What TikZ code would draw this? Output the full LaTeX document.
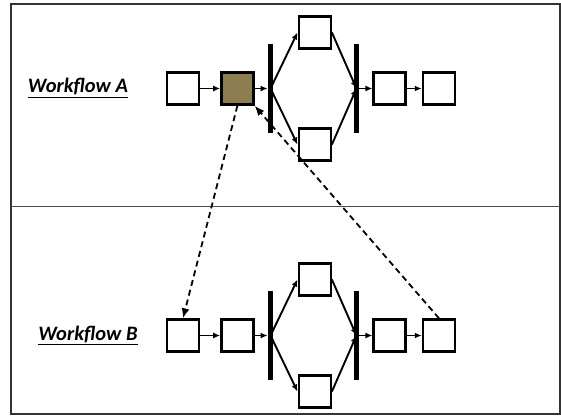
\documentclass[tikz,border=0pt]{standalone}
\usepackage{fontspec}
\setmainfont{Carlito}
\usetikzlibrary{positioning,arrows.meta}
\definecolor{taskbrown}{RGB}{140,126,80}
\tikzset{
  task/.style={draw, line width=2.4pt, minimum size=32pt, inner sep=0pt},
  sync/.style={fill=black, minimum width=5.5pt, minimum height=89pt, inner sep=0pt},
  flow/.style={-{Latex[length=7pt,width=6pt]}, line width=1.9pt},
  link/.style={-{Latex[length=10pt,width=8pt]}, line width=1.8pt, dash pattern=on 6pt off 4pt},
  wflabel/.style={font=\bfseries\itshape\fontsize{20.5}{22}\selectfont}
}
\begin{document}
\begin{tikzpicture}[x=1pt, y=-1pt]
  \useasboundingbox (0,0) rectangle (561,416);
  % Rahmen
  \draw[line width=1.5pt, black!80] (11,4) rectangle (560,414);
  \draw[line width=0.7pt, black!70] (11,206.5) -- (560,206.5);
  % Workflow A
  \node[wflabel] (labA) at (78,88) {\underline{Workflow A}};
  \node[task] (a1) at (183,88.5) {};
  \node[task, fill=taskbrown, right=20pt of a1] (a2) {};
  \node[sync, right=13pt of a2] (sa1) {};
  \node[task, right=24pt of sa1, yshift=56pt] (a3) {};
  \node[task, right=24pt of sa1, yshift=-56pt] (a4) {};
  \node[sync, right=80pt of sa1] (sa2) {};
  \node[task, right=13pt of sa2] (a5) {};
  \node[task, right=15pt of a5] (a6) {};
  \draw[flow] (a1) -- (a2);
  \draw[flow] (a2) -- (sa1);
  \draw[flow] (sa1.center) -- (a3.west);
  \draw[flow] (sa1.center) -- (a4.west);
  \draw[flow] (a3.east) -- (sa2.center);
  \draw[flow] (a4.east) -- (sa2.center);
  \draw[flow] (sa2) -- (a5);
  \draw[flow] (a5) -- (a6);
  % Workflow B
  \node[wflabel] (labB) at (88,335) {\underline{Workflow B}};
  \node[task] (b1) at (183,335.5) {};
  \node[task, right=20pt of b1] (b2) {};
  \node[sync, right=13pt of b2] (sb1) {};
  \node[task, right=24pt of sb1, yshift=56pt] (b3) {};
  \node[task, right=24pt of sb1, yshift=-56pt] (b4) {};
  \node[sync, right=80pt of sb1] (sb2) {};
  \node[task, right=13pt of sb2] (b5) {};
  \node[task, right=15pt of b5] (b6) {};
  \draw[flow] (b1) -- (b2);
  \draw[flow] (b2) -- (sb1);
  \draw[flow] (sb1.center) -- (b3.west);
  \draw[flow] (sb1.center) -- (b4.west);
  \draw[flow] (b3.east) -- (sb2.center);
  \draw[flow] (b4.east) -- (sb2.center);
  \draw[flow] (sb2) -- (b5);
  \draw[flow] (b5) -- (b6);
  % Verbindungen
  \draw[link] (a2.south) -- (b1.north);
  \draw[link] (b6.north) -- (a2.south east);
\end{tikzpicture}
\end{document}
